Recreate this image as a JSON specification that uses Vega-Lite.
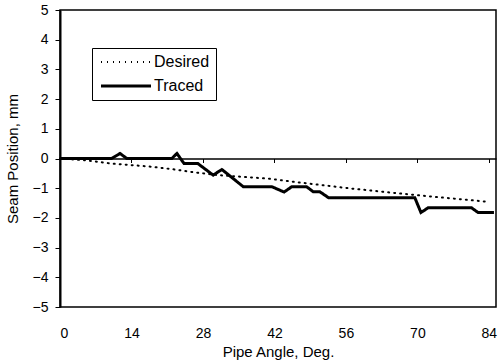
{
  "$schema": "https://vega.github.io/schema/vega-lite/v6.json",
  "autosize": "none",
  "padding": {"left": 60, "top": 10, "right": 2, "bottom": 56},
  "width": 436,
  "height": 297,
  "background": "white",
  "config": {
    "view": {"stroke": "black", "strokeWidth": 1.5},
    "font": "Liberation Sans",
    "axis": {"grid": false, "labelColor": "black", "titleColor": "black", "tickColor": "black", "domainColor": "black", "labelFont": "Liberation Sans", "titleFont": "Liberation Sans", "titleFontWeight": "normal"},
    "legend": {"orient": "none", "legendX": 32, "legendY": 38, "strokeColor": "black", "fillColor": "white", "padding": 6, "symbolType": "M-5,0H5", "symbolSize": 100, "symbolOffset": 20, "symbolStrokeColor": "black", "labelFontSize": 16, "labelFont": "Liberation Sans", "labelColor": "black", "labelOffset": 20, "rowPadding": 8, "title": null}
  },
  "data": {"values": [
    {"series": "Traced", "angle": 0, "value": 0},
    {"series": "Traced", "angle": 10.1, "value": 0},
    {"series": "Traced", "angle": 11.75, "value": 0.17},
    {"series": "Traced", "angle": 13.1, "value": 0},
    {"series": "Traced", "angle": 21.9, "value": 0},
    {"series": "Traced", "angle": 22.9, "value": 0.17},
    {"series": "Traced", "angle": 24.3, "value": -0.17},
    {"series": "Traced", "angle": 27.0, "value": -0.17},
    {"series": "Traced", "angle": 30.0, "value": -0.56},
    {"series": "Traced", "angle": 31.7, "value": -0.37},
    {"series": "Traced", "angle": 35.9, "value": -0.95},
    {"series": "Traced", "angle": 41.5, "value": -0.95},
    {"series": "Traced", "angle": 43.9, "value": -1.13},
    {"series": "Traced", "angle": 45.4, "value": -0.95},
    {"series": "Traced", "angle": 48.3, "value": -0.95},
    {"series": "Traced", "angle": 49.6, "value": -1.12},
    {"series": "Traced", "angle": 50.9, "value": -1.12},
    {"series": "Traced", "angle": 52.6, "value": -1.32},
    {"series": "Traced", "angle": 69.5, "value": -1.32},
    {"series": "Traced", "angle": 70.7, "value": -1.82},
    {"series": "Traced", "angle": 72.1, "value": -1.66},
    {"series": "Traced", "angle": 80.6, "value": -1.66},
    {"series": "Traced", "angle": 81.9, "value": -1.82},
    {"series": "Traced", "angle": 85.0, "value": -1.82},
    {"series": "Desired", "angle": 0, "value": 0},
    {"series": "Desired", "angle": 5, "value": -0.06},
    {"series": "Desired", "angle": 10, "value": -0.17},
    {"series": "Desired", "angle": 17.5, "value": -0.27},
    {"series": "Desired", "angle": 22, "value": -0.36},
    {"series": "Desired", "angle": 26, "value": -0.46},
    {"series": "Desired", "angle": 31, "value": -0.56},
    {"series": "Desired", "angle": 36, "value": -0.62},
    {"series": "Desired", "angle": 41, "value": -0.68},
    {"series": "Desired", "angle": 46, "value": -0.79},
    {"series": "Desired", "angle": 50, "value": -0.87},
    {"series": "Desired", "angle": 54, "value": -0.95},
    {"series": "Desired", "angle": 57, "value": -1.01},
    {"series": "Desired", "angle": 65, "value": -1.15},
    {"series": "Desired", "angle": 72, "value": -1.27},
    {"series": "Desired", "angle": 79, "value": -1.38},
    {"series": "Desired", "angle": 84, "value": -1.46}
  ]},
  "layer": [
    {
      "transform": [{"filter": "datum.series == 'Desired'"}],
      "mark": {"type": "line", "color": "black", "strokeCap": "round"},
      "encoding": {
        "x": {"field": "angle", "type": "quantitative", "scale": {"domain": [0, 85.4], "nice": false, "zero": false},
          "axis": {"orient": "bottom", "offset": -148.5, "labels": false, "title": null, "ticks": true, "tickSize": 4, "tickWidth": 1, "values": [0, 14, 28, 42, 56, 70, 84], "domain": true, "domainWidth": 1.5}},
        "y": {"field": "value", "type": "quantitative", "scale": {"domain": [-5, 5], "nice": false},
          "axis": {"values": [-5, -4, -3, -2, -1, 0, 1, 2, 3, 4, 5], "tickSize": 5, "tickWidth": 1, "labelPadding": 7, "labelFontSize": 14, "domainWidth": 2, "title": "Seam Position, mm", "titleFontSize": 15, "titlePadding": 12}},
        "strokeDash": {"field": "series", "type": "nominal", "scale": {"domain": ["Desired", "Traced"], "range": [[1, 5], [1, 0]]}, "title": null},
        "strokeWidth": {"field": "series", "type": "nominal", "scale": {"domain": ["Desired", "Traced"], "range": [2, 3]}, "title": null}
      }
    },
    {
      "transform": [{"filter": "datum.series == 'Traced'"}],
      "mark": {"type": "line", "color": "black", "strokeJoin": "miter"},
      "encoding": {
        "x": {"field": "angle", "type": "quantitative", "scale": {"domain": [0, 85.4], "nice": false, "zero": false},
          "axis": {"orient": "bottom", "values": [0, 14, 28, 42, 56, 70, 84], "ticks": false, "tickSize": 0, "domain": false, "labelPadding": 19, "labelFontSize": 14, "title": "Pipe Angle, Deg.", "titleFontSize": 15, "titlePadding": 4}},
        "y": {"field": "value", "type": "quantitative", "scale": {"domain": [-5, 5], "nice": false},
          "axis": {"values": [-5, -4, -3, -2, -1, 0, 1, 2, 3, 4, 5], "tickSize": 5, "tickWidth": 1, "labelPadding": 7, "labelFontSize": 14, "domainWidth": 2, "title": "Seam Position, mm", "titleFontSize": 15, "titlePadding": 12}},
        "strokeDash": {"field": "series", "type": "nominal", "scale": {"domain": ["Desired", "Traced"], "range": [[1, 5], [1, 0]]}, "title": null},
        "strokeWidth": {"field": "series", "type": "nominal", "scale": {"domain": ["Desired", "Traced"], "range": [2, 3]}, "title": null}
      }
    }
  ],
  "resolve": {"axis": {"x": "independent"}}
}
